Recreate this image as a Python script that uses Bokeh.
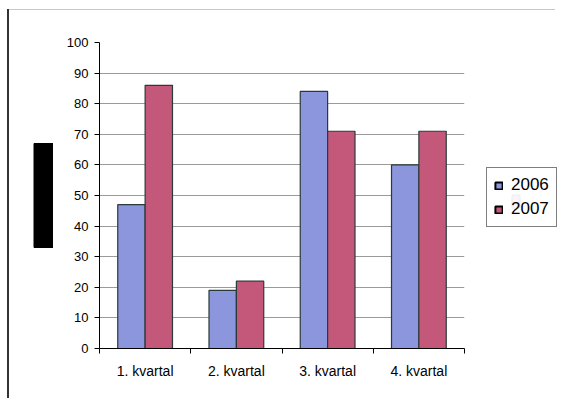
from bokeh.plotting import figure
from bokeh.layouts import row
from bokeh.models import ColumnDataSource, FixedTicker, Legend, LegendItem
from bokeh.embed import file_html
from bokeh.resources import INLINE

categories = ["1. kvartal", "2. kvartal", "3. kvartal", "4. kvartal"]
series_names = ["2006", "2007"]
values_2006 = [47, 19, 84, 60]
values_2007 = [86, 22, 71, 71]
y_ticks = [0, 10, 20, 30, 40, 50, 60, 70, 80, 90, 100]

colors = ["#8C96DC", "#C4587A"]
edge = "#2a3a3a"
font = "Liberation Sans"

H = 398
TOP, BOTTOM = 42, 50
centers = [i + 0.5 for i in range(len(categories))]
bw = 0.30

# left strip: the redacted axis-title block (frame is aligned with the main frame)
side = figure(width=53, height=H, output_backend="svg", toolbar_location=None,
              x_range=(0, 53), y_range=(H - BOTTOM, TOP), min_border=0,
              x_axis_location=None, y_axis_location=None)
side.grid.visible = False
side.outline_line_color = None
side.border_fill_color = None
side.background_fill_color = None
side.quad(left=[33.5], right=[53], top=[143], bottom=[247],
          fill_color="black", line_color="black")

# main chart
p = figure(width=419, height=H, output_backend="svg", toolbar_location=None,
           x_range=(0, len(categories)), y_range=(0, 100),
           min_border_left=46, min_border_right=8, min_border_top=TOP, min_border_bottom=BOTTOM)
p.outline_line_color = None
p.background_fill_color = None
p.border_fill_color = None

src1 = ColumnDataSource(dict(x=[c - bw / 2 for c in centers], top=values_2006))
src2 = ColumnDataSource(dict(x=[c + bw / 2 for c in centers], top=values_2007))
p.vbar(x="x", top="top", width=bw, source=src1, fill_color=colors[0],
       line_color=edge, line_width=1.2)
p.vbar(x="x", top="top", width=bw, source=src2, fill_color=colors[1],
       line_color=edge, line_width=1.2)

p.xaxis.ticker = FixedTicker(ticks=centers, minor_ticks=list(range(len(categories) + 1)))
p.xaxis.major_label_overrides = {c: name for c, name in zip(centers, categories)}
p.xaxis.major_tick_line_color = None
p.xaxis.major_tick_out = 0
p.xaxis.major_tick_in = 0
p.xaxis.minor_tick_line_color = "black"
p.xaxis.minor_tick_out = 5
p.xaxis.minor_tick_in = 0
p.xaxis.major_label_standoff = 9
p.xaxis.axis_line_color = "black"
p.xaxis.major_label_text_font_size = "14px"

p.yaxis.ticker = FixedTicker(ticks=y_ticks)
p.yaxis.minor_tick_line_color = None
p.yaxis.major_tick_out = 5
p.yaxis.major_tick_in = 0
p.yaxis.major_label_standoff = 6
p.yaxis.axis_line_color = "black"
p.yaxis.major_label_text_font_size = "13px"

for ax in (p.xaxis, p.yaxis):
    ax.major_label_text_font = font
    ax.major_label_text_color = "black"

p.xgrid.grid_line_color = None
p.ygrid.grid_line_color = "#9a9a9a"
p.ygrid.grid_line_width = 1

# right strip holding the legend (proxy glyphs sit hidden under the legend box)
leg = figure(width=87, height=H, output_backend="svg", toolbar_location=None,
             x_range=(0, 1), y_range=(0, 1), min_border=0,
             x_axis_location=None, y_axis_location=None)
leg.grid.visible = False
leg.outline_line_color = None
leg.border_fill_color = None
leg.background_fill_color = None
l1 = leg.vbar(x=[0.5], bottom=[0.46], top=[0.5], width=0.08, fill_color=colors[0],
              line_color="black", line_width=2)
l2 = leg.vbar(x=[0.5], bottom=[0.46], top=[0.5], width=0.08, fill_color=colors[1],
              line_color="black", line_width=2)

legend = Legend(items=[LegendItem(label=series_names[0], renderers=[l1]),
                       LegendItem(label=series_names[1], renderers=[l2])],
                location=(14, 121), orientation="vertical")
legend.label_text_font = font
legend.label_text_font_size = "17px"
legend.label_text_color = "black"
legend.glyph_width = 9
legend.glyph_height = 9
legend.label_height = 17
legend.spacing = 4
legend.padding = 7
legend.margin = 0
legend.label_standoff = 8
legend.border_line_color = "black"
legend.border_line_width = 1
legend.background_fill_color = "white"
leg.add_layout(legend, "center")

layout = row(side, p, leg, spacing=0)
layout.styles = {
    "background": ("linear-gradient(#333333,#333333) 7px 9px / 2px 389px no-repeat, "
                   "linear-gradient(#c8c8c8,#c8c8c8) 7px 9px / 548px 1px no-repeat, white")
}
open("out.html", "w").write(file_html(layout, INLINE))
